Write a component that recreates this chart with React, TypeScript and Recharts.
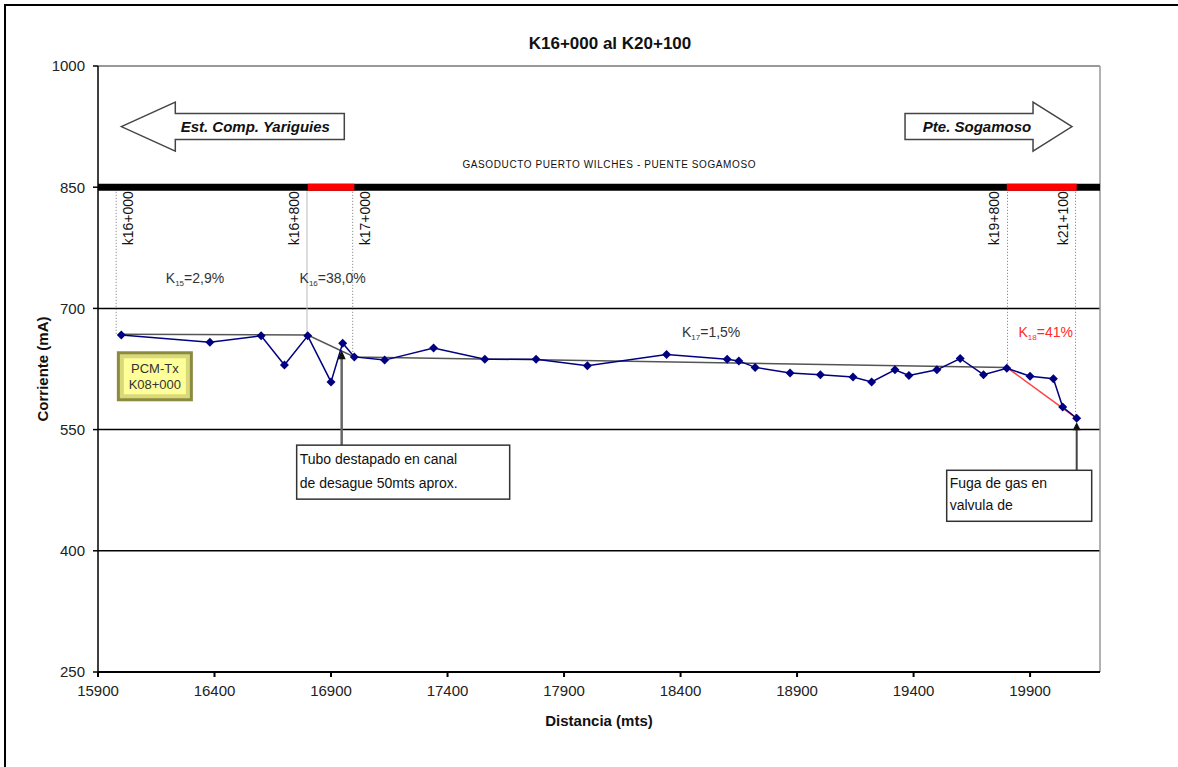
import {
  ComposedChart,
  Line,
  XAxis,
  YAxis,
  ReferenceLine,
  ReferenceDot,
} from 'recharts'

const DISTANCE = [
  16000, 16380, 16600, 16700, 16800, 16900, 16950, 17000, 17130, 17340, 17560, 17780, 18000, 18340,
  18600, 18650, 18720, 18870, 19000, 19140, 19220, 19320, 19380, 19500, 19600, 19700, 19800, 19900,
  20000, 20040, 20100,
]
const CURRENT = [
  667, 658, 666, 630, 666, 609, 657, 640, 636, 651, 637, 637, 629, 643, 637, 635, 627, 620, 618, 615,
  609, 624, 617, 624, 638, 618, 626, 616, 613, 578, 564,
]

// tendencias por tramo
const TREND_X = [16000, 16800, 17000, 19800]
const TREND_Y = [668, 667, 640, 627]
const LEAK_X = [19800, 20100]
const LEAK_Y = [627, 564]

const X_TICKS = [15900, 16400, 16900, 17400, 17900, 18400, 18900, 19400, 19900]
const Y_TICKS = [250, 400, 550, 700, 850, 1000]

// abscisas marcadas sobre el gasoducto
const KM_LABELS = ['k16+000', 'k16+800', 'k17+000', 'k19+800', 'k21+100']
const KM_X = [15978, 16797, 16993, 19803, 20095]
const KM_END = [667, 667, 641, 626, 564]
const KM_SIDE = ['right', 'left', 'right', 'left', 'left']

// tramos en rojo sobre la linea del gasoducto
const RED_SPANS = [
  [16800, 17000],
  [19800, 20100],
]

const K_LABELS = [
  { sub: '15', val: '2,9%', x: 16191, y: 732, color: '#333' },
  { sub: '16', val: '38,0%', x: 16765, y: 732, color: '#333' },
  { sub: '17', val: '1,5%', x: 18406, y: 664, color: '#333' },
  { sub: '18', val: '41%', x: 19850, y: 664, color: '#ff2a2a' },
]

const FONT = '"Liberation Sans", Arial, sans-serif'

const mainData = DISTANCE.map((x, i) => ({ x, y: CURRENT[i] }))
const trendData = TREND_X.map((x, i) => ({ x, y: TREND_Y[i] }))
const leakData = LEAK_X.map((x, i) => ({ x, y: LEAK_Y[i] }))

function mark(key: string, x: number, y: number, draw: (cx: number, cy: number) => any) {
  return (
    <ReferenceDot
      key={key}
      x={x}
      y={y}
      r={0}
      ifOverflow="visible"
      shape={(p: any) => draw(p.cx, p.cy)}
    />
  )
}

function Diamond(props: any) {
  const { cx, cy, index } = props
  if (cx == null || cy == null) return <g key={index} />
  return (
    <path
      key={index}
      d={`M${cx},${cy - 4.5}L${cx + 4.5},${cy}L${cx},${cy + 4.5}L${cx - 4.5},${cy}Z`}
      fill="#000080"
    />
  )
}

function blockArrow(cx: number, cy: number, dir: number, head: number, len: number, text: string, tx: number) {
  const p = [
    [0, 0],
    [head, -24.5],
    [head, -13],
    [len, -13],
    [len, 13],
    [head, 13],
    [head, 24.5],
  ]
    .map(([a, b]) => `${cx + dir * a},${cy + b}`)
    .join(' ')
  return (
    <g>
      <polygon points={p} fill="#fff" stroke="#444" strokeWidth={1.5} />
      <text
        x={cx + dir * tx}
        y={cy + 5}
        textAnchor="middle"
        fontFamily={FONT}
        fontSize={15}
        fontWeight="bold"
        fontStyle="italic"
        fill="#111"
      >
        {text}
      </text>
    </g>
  )
}

export default function App() {
  return (
    <div style={{ position: 'relative', width: 1178, height: 767, overflow: 'hidden', background: '#fff' }}>
      <style>{'body{margin:0}'}</style>
      <div
        style={{
          position: 'absolute',
          left: 4,
          top: 4,
          width: 1300,
          height: 900,
          borderLeft: '2px solid #000',
          borderTop: '2px solid #000',
        }}
      />
      <div
        style={{
          position: 'absolute',
          top: 34,
          left: 0,
          width: 1220,
          textAlign: 'center',
          fontFamily: FONT,
          fontWeight: 'bold',
          fontSize: 17,
          color: '#111',
        }}
      >
        K16+000 al K20+100
      </div>
      <div style={{ position: 'absolute', left: 0, top: 0 }}>
        <ComposedChart width={1178} height={767} margin={{ top: 66, right: 78, left: 38, bottom: 45 }}>
          <XAxis
            dataKey="x"
            type="number"
            domain={[15900, 20200]}
            ticks={X_TICKS}
            allowDataOverflow
            height={50}
            tickSize={5}
            tickMargin={8}
            stroke="#000"
            strokeWidth={2}
            tick={{ fill: '#222', fontSize: 15, fontFamily: FONT }}
            label={{
              value: 'Distancia (mts)',
              position: 'insideBottom',
              offset: -4,
              fill: '#111',
              fontSize: 15,
              fontWeight: 'bold',
              fontFamily: FONT,
            }}
          />
          <YAxis
            type="number"
            domain={[250, 1000]}
            ticks={Y_TICKS}
            allowDataOverflow
            width={60}
            tickSize={5}
            tickMargin={8}
            stroke="#000"
            strokeWidth={1.5}
            tick={{ fill: '#222', fontSize: 15, fontFamily: FONT }}
            label={{
              value: 'Corriente (mA)',
              angle: -90,
              position: 'insideLeft',
              offset: 5,
              fill: '#111',
              fontSize: 15,
              fontWeight: 'bold',
              fontFamily: FONT,
              style: { textAnchor: 'middle' },
            }}
          />

          <ReferenceLine y={1000} stroke="#777" strokeWidth={1.5} />
          <ReferenceLine y={700} stroke="#000" strokeWidth={1.5} />
          <ReferenceLine y={550} stroke="#000" strokeWidth={1.5} />
          <ReferenceLine y={400} stroke="#000" strokeWidth={1.5} />
          <ReferenceLine x={20200} stroke="#999" strokeWidth={1.5} />

          {KM_X.map((x, i) => (
            <ReferenceLine
              key={`kl${i}`}
              segment={[
                { x, y: 848 },
                { x, y: KM_END[i] },
              ]}
              stroke={i === 1 ? '#bbb' : '#777'}
              strokeWidth={1}
              strokeDasharray={i === 1 ? undefined : '1 2'}
            />
          ))}

          <ReferenceLine y={850} stroke="#000" strokeWidth={7} />
          {RED_SPANS.map(([a, b], i) => (
            <ReferenceLine
              key={`rs${i}`}
              segment={[
                { x: a, y: 850 },
                { x: b, y: 850 },
              ]}
              stroke="#ff0000"
              strokeWidth={7}
            />
          ))}

          <Line
            data={trendData}
            dataKey="y"
            stroke="#555"
            strokeWidth={1.5}
            dot={false}
            isAnimationActive={false}
          />
          <Line
            data={leakData}
            dataKey="y"
            stroke="#ff4040"
            strokeWidth={1.5}
            dot={false}
            isAnimationActive={false}
          />
          <Line
            data={mainData}
            dataKey="y"
            stroke="#000080"
            strokeWidth={1.5}
            dot={Diamond}
            activeDot={false}
            isAnimationActive={false}
          />

          {mark('gas', 18094, 877, (cx, cy) => (
            <text
              x={cx}
              y={cy + 3}
              textAnchor="middle"
              fontFamily={FONT}
              fontSize={10}
              letterSpacing={0.6}
              fill="#111"
            >
              GASODUCTO PUERTO WILCHES - PUENTE SOGAMOSO
            </text>
          ))}

          {mark('arrL', 16000, 925, (cx, cy) =>
            blockArrow(cx, cy, 1, 54, 223, 'Est. Comp. Yariguies', 134)
          )}
          {mark('arrR', 20080, 925, (cx, cy) => blockArrow(cx, cy, -1, 39, 167, 'Pte. Sogamoso', 95))}

          {KM_X.map((x, i) =>
            mark(`km${i}`, x, 850, (cx, cy) => {
              const bx = KM_SIDE[i] === 'right' ? cx + 17 : cx - 8
              const by = cy + 4
              return (
                <text
                  x={bx}
                  y={by}
                  transform={`rotate(-90 ${bx} ${by})`}
                  textAnchor="end"
                  fontFamily={FONT}
                  fontSize={14}
                  fill="#111"
                >
                  {KM_LABELS[i]}
                </text>
              )
            })
          )}

          {K_LABELS.map((k, i) =>
            mark(`k${i}`, k.x, k.y, (cx, cy) => (
              <text x={cx} y={cy} fontFamily={FONT} fontSize={14} fill={k.color}>
                <tspan>K</tspan>
                <tspan fontSize={8} dy={3}>
                  {k.sub}
                </tspan>
                <tspan dy={-3}>{'='}</tspan>
                <tspan>{k.val}</tspan>
              </text>
            ))
          )}

          {mark('pcm', 16144, 616, (cx, cy) => (
            <g>
              <rect x={cx - 38} y={cy - 25} width={76} height={50} fill="#8a8a40" />
              <rect x={cx - 35} y={cy - 22} width={70} height={44} fill="#d9d97a" />
              <rect x={cx - 31} y={cy - 18} width={62} height={36} fill="#ffff99" />
              <text x={cx} y={cy - 3} textAnchor="middle" fontFamily={FONT} fontSize={13} fill="#333">
                PCM-Tx
              </text>
              <text x={cx} y={cy + 13} textAnchor="middle" fontFamily={FONT} fontSize={13} fill="#333">
                K08+000
              </text>
            </g>
          ))}

          {mark('tubo', 16950, 657, (cx, cy) => (
            <g>
              <line x1={cx - 1} y1={cy + 14} x2={cx - 1} y2={cy + 102} stroke="#666" strokeWidth={2.5} />
              <polygon points={`${cx - 1},${cy + 7} ${cx - 5},${cy + 16} ${cx + 3},${cy + 16}`} fill="#111" />
              <rect x={cx - 46} y={cy + 102} width={213} height={54} fill="#fff" stroke="#333" strokeWidth={1.5} />
              <text x={cx - 43} y={cy + 121} fontFamily={FONT} fontSize={14} fill="#111">
                Tubo destapado en canal
              </text>
              <text x={cx - 43} y={cy + 145} fontFamily={FONT} fontSize={14} fill="#111">
                de desague 50mts aprox.
              </text>
            </g>
          ))}

          {mark('fuga', 20100, 564, (cx, cy) => (
            <g>
              <defs>
                <clipPath id="fugaClip">
                  <rect x={cx - 130} y={cy + 52} width={145} height={51} />
                </clipPath>
              </defs>
              <line x1={cx} y1={cy + 10} x2={cx} y2={cy + 52} stroke="#444" strokeWidth={2} />
              <polygon points={`${cx},${cy + 4} ${cx - 4},${cy + 12} ${cx + 4},${cy + 12}`} fill="#111" />
              <rect x={cx - 130} y={cy + 52} width={145} height={51} fill="#fff" stroke="#333" strokeWidth={1.5} />
              <g clipPath="url(#fugaClip)">
                <text x={cx - 127} y={cy + 70} fontFamily={FONT} fontSize={14} fill="#111">
                  Fuga de gas en
                </text>
                <text x={cx - 127} y={cy + 92} fontFamily={FONT} fontSize={14} fill="#111">
                  valvula de
                </text>
                <text x={cx - 127} y={cy + 114} fontFamily={FONT} fontSize={14} fill="#111">
                  cierre
                </text>
              </g>
            </g>
          ))}
        </ComposedChart>
      </div>
    </div>
  )
}
